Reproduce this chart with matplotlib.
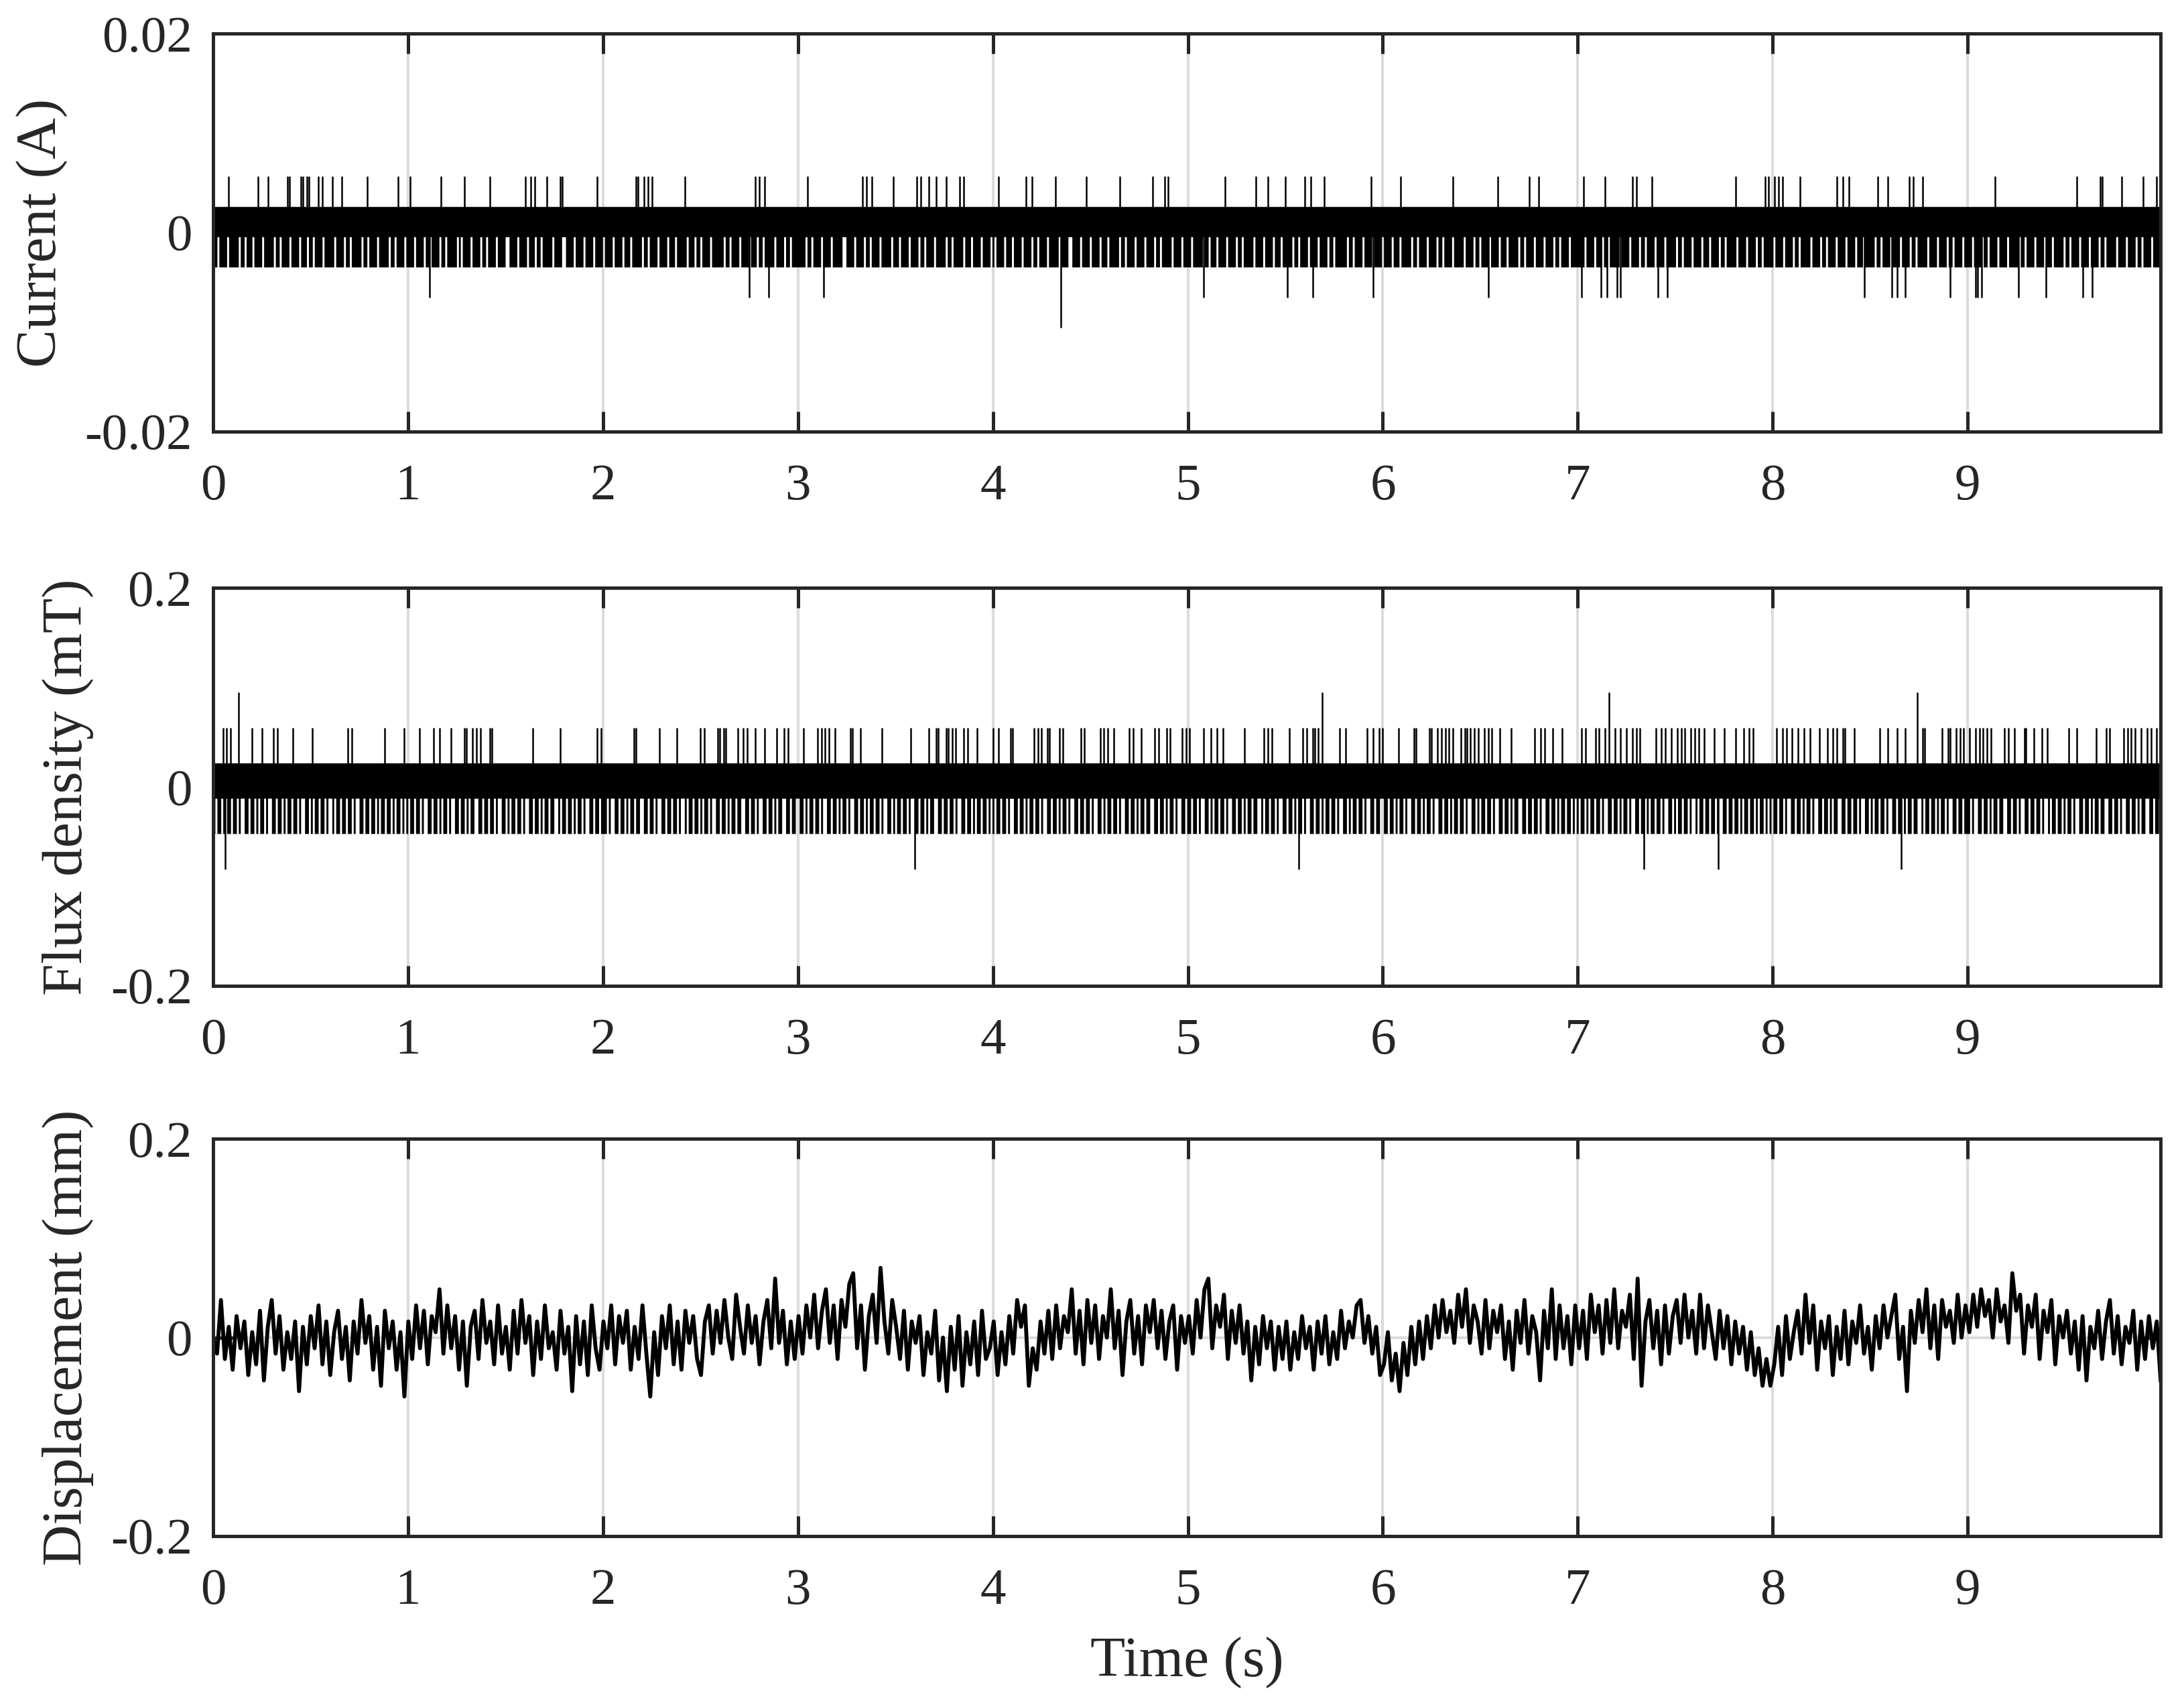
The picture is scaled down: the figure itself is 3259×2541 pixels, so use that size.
import numpy as np
import matplotlib.pyplot as plt

plt.rcParams['font.family'] = ['Liberation Serif', 'DejaVu Serif']

# ---- data ----
# Current (A) and flux (mT) are quantised: the trace toggles between the
# base level and base+step all the time, dips to base-step in some 10 ms
# windows ('1' = dips, '0' = stays up), and has isolated excursions.
cur_base = -0.00043
cur_step = 0.00304
cur_dips = [
    "1101111011111011011101111011111011011110111101110110111101111101111011011111011011110111110110111101",
    "1110111101101111011011111010111101111011011110111100111101111011101101111101111001111011110111101111",
    "0111101111011101111101101111011110111011111011101101111011111101101111011110111011011111011110110111",
    "1111011011110111101111100111101111011011110111110111011110111101101111011111011011111011101111011110",
    "1011110111011110111101101111011111011110011110111101111011101111101101111011110111101101111101111011",
    "1101111101101110111101111011011111011110111101110111110110111101111011110110111111011011110111101111",
    "0111101110111110110111101111011011110111110111101101111011110111011111011011110111101111011011110111",
    "1111011110111011011111011110111101101111011110111110110111101111011101111011011111011110111101101111",
    "1011110111101101111101111011011110111101111011101111101101111011110111101101111101111011110110111101",
    "1110111101101111011110111110110111101111011101111101101111011110111101101111101111011110110111101111",
]
cur_up_t = [0.08, 0.23, 0.28, 0.38, 0.39, 0.45, 0.46, 0.48, 0.49, 0.54, 0.56, 0.61, 0.66,
            0.79, 0.95, 1.01, 1.17, 1.29, 1.42, 1.60, 1.63, 1.65, 1.71, 1.78, 1.79, 1.97,
            2.17, 2.18, 2.21, 2.23, 2.25, 2.42, 2.78, 2.80, 2.83, 3.05, 3.33, 3.35, 3.38,
            3.49, 3.61, 3.63, 3.67, 3.71, 3.76, 3.83, 3.85, 4.03, 4.17, 4.20, 4.32, 4.48,
            4.65, 4.82, 4.88, 4.90, 5.19, 5.35, 5.41, 5.50, 5.60, 5.63, 5.70, 5.94, 6.09,
            6.36, 6.59, 6.75, 6.80, 7.03, 7.14, 7.28, 7.30, 7.38, 7.81, 7.96, 7.98, 8.01,
            8.03, 8.05, 8.14, 8.33, 8.36, 8.39, 8.54, 8.59, 8.70, 8.72, 8.77, 9.14, 9.56,
            9.68, 9.69, 9.79, 9.90, 9.97]
cur_dn_t = [1.11, 2.75, 2.85, 3.13, 5.08, 5.51, 5.64, 5.95, 6.54, 7.02, 7.12, 7.15, 7.20,
            7.22, 7.41, 7.46, 8.47, 8.61, 8.64, 8.68, 8.91, 9.04, 9.05, 9.07, 9.26, 9.40,
            9.59, 9.64]
cur_big_dn_t = [4.35]

flux_base = -0.0115
flux_step = 0.0355
flux_dips = [
    "1011010110110100110110101101001101101011011010011010110110100101101101101001101101101011011010110101",
    "0110110100110110101101001101101011001101101101001101011011010011011010110110010110110101101001101101",
    "1101001101101011011001101101001101101101001011011010110100110110101101100110110100110110101100110110",
    "0110101101101001101101011010011011010110110100110101101101001101101011001101101101001101101011011010",
    "1011011010011011010110110100110110101101001101101101001101011011010011011010110110011011010110100110",
    "1101101001101011011010011011010110110010110110100110110101101001101101011011010011010110110100110110",
    "0110110101101001101101011010011011010110110100110101101101001101101011001101101101001101101011011010",
    "1011010110110100110110101101001101101011011010011010110110100101101101101001101101101011011010110101",
    "0110110100110110101101001101101011001101101101001101011011010011011010110110010110110101101001101101",
    "1101001101101011011001101101001101101101001011011010110100110110101101100110110100110110101100110110",
]
flux_up_t = [0.05, 0.07, 0.09, 0.20, 0.25, 0.31, 0.33, 0.41, 0.51, 0.69, 0.71, 0.88, 0.98,
             1.06, 1.13, 1.16, 1.22, 1.29, 1.30, 1.33, 1.35, 1.37, 1.42, 1.43, 1.64, 1.78,
             1.97, 1.99, 2.16, 2.17, 2.29, 2.38, 2.50, 2.52, 2.59, 2.60, 2.62, 2.63, 2.69,
             2.72, 2.74, 2.78, 2.83, 2.89, 2.93, 2.95, 3.03, 3.10, 3.12, 3.14, 3.16, 3.19,
             3.27, 3.28, 3.32, 3.43, 3.58, 3.67, 3.71, 3.72, 3.76, 3.77, 3.79, 3.81, 3.85,
             3.87, 3.92, 4.00, 4.03, 4.09, 4.10, 4.21, 4.23, 4.25, 4.28, 4.29, 4.34, 4.36,
             4.45, 4.47, 4.55, 4.57, 4.59, 4.62, 4.70, 4.72, 4.76, 4.83, 4.85, 4.89, 4.91,
             4.97, 4.99, 5.01, 5.08, 5.12, 5.15, 5.18, 5.29, 5.39, 5.41, 5.43, 5.52, 5.59,
             5.61, 5.64, 5.65, 5.67, 5.78, 5.81, 5.92, 5.95, 5.98, 6.00, 6.08, 6.16, 6.17,
             6.24, 6.25, 6.28, 6.30, 6.32, 6.34, 6.36, 6.40, 6.42, 6.43, 6.45, 6.47, 6.49,
             6.52, 6.54, 6.56, 6.60, 6.66, 6.78, 6.81, 6.83, 6.87, 6.92, 7.02, 7.04, 7.09,
             7.11, 7.14, 7.19, 7.22, 7.25, 7.28, 7.30, 7.32, 7.40, 7.43, 7.45, 7.48, 7.51,
             7.53, 7.55, 7.58, 7.60, 7.62, 7.65, 7.70, 7.75, 7.81, 7.85, 7.88, 7.90, 8.02,
             8.05, 8.07, 8.10, 8.13, 8.16, 8.19, 8.24, 8.28, 8.31, 8.33, 8.36, 8.37, 8.42,
             8.55, 8.59, 8.64, 8.68, 8.77, 8.78, 8.87, 8.90, 8.91, 8.94, 8.96, 8.98, 9.01,
             9.04, 9.06, 9.08, 9.10, 9.12, 9.19, 9.21, 9.24, 9.29, 9.30, 9.34, 9.38, 9.41,
             9.52, 9.56, 9.66, 9.71, 9.73, 9.80, 9.82, 9.84, 9.86, 9.89, 9.92, 9.94, 9.97]
flux_big_up_t = [0.13, 5.69, 7.16, 8.74]
flux_dn_t = [0.06, 3.60, 5.57, 7.34, 7.72, 8.66]

# displacement (mm): levels of 0.0054 mm, one every 0.02 s
disp_step = 0.0054
disp_levels = [
    0, -3, 7, -4, 2, -6, 4, -2, 3, -7, 1, -5, 5, -8, 2, 7, -3, 4, -6, 1, -4, 3, -10, 2, -5,
    4, -2, 6, -5, 3, -7, 1, 5, -4, 2, -8, 3, -3, 7, -1, 4, -6, 2, -9, 5, -2, 3, -6, 1, -11,
    3, -4, 6, -2, 5, -5, 4, 1, 9, -3, 6, -2, 4, -6, 3, -9, 2, 5, -4, 7, -1, 3, -5, 6, -3,
    2, -6, 5, -3, 7, -1, 4, -7, 3, -4, 6, -2, 1, -6, 5, -3, 2, -10, 4, -5, 3, -7, 6, -2, -6,
    3, -2, 6, -5, 4, -1, 5, -6, 2, -4, 6, -3, -11, 1, -7, 4, -2, 6, -5, 3, -6, 5, -1, 4, -4,
    -7, 3, 6, -3, 5, -1, 7, 0, -4, 8, 2, -3, 6, -1, 4, -5, 3, 7, -2, 11, -1, 5, -5, 3, -4,
    4, -3, 6, 0, 8, -2, 5, 9, -1, 6, -4, 7, 2, 10, 12, -2, 6, -6, 4, 8, -1, 13, 3, -3, 7,
    2, -4, 5, -6, 3, -1, 4, -7, 1, -3, 5, -8, 0, -10, 2, -6, 4, -9, 1, -5, 3, -7, 5, -4, -2,
    3, -7, 1, -5, 4, -3, 7, 2, 6, -9, -2, -6, 3, -3, 5, -4, 6, -2, 4, 1, 9, -3, 5, -5, 7,
    -1, 6, -4, 4, 0, 9, -2, 5, -7, 3, 7, -3, 4, -5, 6, 1, 7, -2, 5, -4, 3, 6, -6, 4, -1,
    4, -3, 7, 0, 9, 11, -2, 6, 2, 8, -4, 5, -1, 6, -3, 3, -8, 2, -5, 4, -2, 3, -6, 2, -4,
    3, -6, 1, -4, 4, -2, 2, -6, 3, -3, 4, -5, 1, -4, 5, -2, 3, 0, 6, 7, -1, 4, -3, 2, -7,
    -5, 1, -8, -3, -10, -1, -7, 2, -5, 3, -4, 4, -2, 6, 0, 7, 1, 5, -1, 8, 2, 9, -1, 6, 3,
    -3, 7, -2, 5, 1, 6, -4, 3, -6, 5, -1, 7, -3, 4, 1, -8, 5, -2, 9, -4, 6, -2, 4, -5, 6,
    -2, 5, -4, 8, 1, 6, -3, 7, -1, 9, -2, 5, 2, 8, -4, 11, -9, 3, 7, -2, 5, -5, 6, -3, 4,
    7, -1, 8, 0, 5, -3, 8, -2, 6, 1, -4, 5, -2, 4, -5, 3, -3, 2, -6, 1, -7, -2, -9, -4, -9,
    -5, 2, -7, 4, -4, 1, 5, -3, 8, -1, 6, -6, 3, -2, 4, -7, 2, -4, 5, -5, 3, -1, 6, -3, 2,
    -6, 4, -2, 6, 0, 4, 8, -4, 2, -10, 5, -1, 7, 1, 9, -2, 6, -4, 7, 2, 5, -1, 8, 0, 6,
    1, 8, 2, 9, 4, 7, 0, 9, 3, 6, -1, 12, 5, 8, -3, 6, 2, 8, -4, 5, 1, 7, -5, 4, 0,
    5, -3, 3, -6, 4, -8, 2, -2, 5, -4, 3, 7, -3, 4, -5, 2, -1, 5, -6, 3, -4, 4, -2, 3, -8,
]

t_end = 9.99
ylabels = ['Current (A)', 'Flux density (mT)', 'Displacement (mm)']
yticks = [[-0.02, 0, 0.02], [-0.2, 0, 0.2], [-0.2, 0, 0.2]]
yticklabels = [['-0.02', '0', '0.02'], ['-0.2', '0', '0.2'], ['-0.2', '0', '0.2']]
xticks = [0, 1, 2, 3, 4, 5, 6, 7, 8, 9]


def draw_band(ax, dip_rows, base, step, spikes):
    # dense toggling trace: always covers base..base+step, dips where flagged
    flags = np.array([c == '1' for c in ''.join(dip_rows)])
    edges = np.linspace(0, t_end, len(flags) + 1)
    lo = np.where(flags, base - step, base)
    lo = np.append(lo, lo[-1])
    ax.fill_between(edges, lo, base + step, step='post', color='black', lw=0)
    for times, code in spikes:
        ax.vlines(times, base, base + code * step, color='black', lw=0.6)


disp = np.array(disp_levels) * disp_step
t_disp = np.linspace(0, t_end, len(disp))

# ---- figure ----
fig = plt.figure(figsize=(3259 / 300, 2541 / 300), dpi=300)
rects = [[0.0976, 0.7466, 0.8917, 0.2337],
         [0.0976, 0.4211, 0.8917, 0.2337],
         [0.0976, 0.0980, 0.8917, 0.2332]]
dark = '#262626'
axes = [fig.add_axes(r) for r in rects]

draw_band(axes[0], cur_dips, cur_base, cur_step,
          [(cur_up_t, 2), (cur_dn_t, -2), (cur_big_dn_t, -3)])
draw_band(axes[1], flux_dips, flux_base, flux_step,
          [(flux_up_t, 2), (flux_big_up_t, 3), (flux_dn_t, -2)])
axes[2].plot(t_disp, disp, color='black', lw=1.4)

for i, ax in enumerate(axes):
    ax.set_xlim(0, t_end)
    ax.set_ylim(yticks[i][0], yticks[i][-1])
    ax.set_xticks(xticks)
    ax.set_xticklabels([str(v) for v in xticks])
    ax.set_yticks(yticks[i])
    ax.set_yticklabels(yticklabels[i])
    ax.grid(True, color='#dcdcdc', lw=1.0)
    ax.set_axisbelow(True)
    ax.tick_params(direction='in', length=7.2, width=1.2, top=True, right=True,
                   labelsize=18.5, color=dark, labelcolor=dark)
    ax.tick_params(axis='x', pad=11.5)
    ax.tick_params(axis='y', pad=7.5)
    for s in ax.spines.values():
        s.set_linewidth(1.2)
        s.set_color(dark)
    ax.set_ylabel(ylabels[i], fontsize=20.5, color=dark, labelpad=6)

axes[2].set_xlabel('Time (s)', fontsize=20.5, color=dark, labelpad=8)

fig.savefig('out.png', dpi=300)
